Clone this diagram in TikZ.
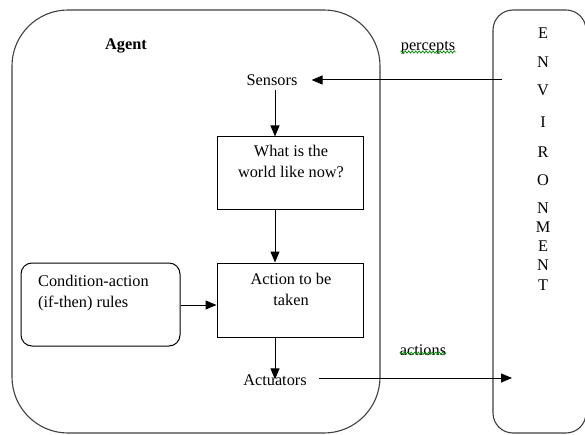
\documentclass[tikz,border=0pt]{standalone}
\usepackage{fontspec}
\setmainfont{Liberation Serif}
\usetikzlibrary{arrows.meta,decorations.pathmorphing}
\begin{document}
\begin{tikzpicture}[x=1pt,y=-1pt,
  every node/.style={font=\fontsize{16.3}{21}\selectfont, inner sep=0pt},
  frame/.style={draw=black!75, line width=1.1pt},
  box/.style={draw, line width=1pt},
  arr/.style={-{Triangle[length=11pt,width=9pt]}, line width=1pt},
  squig/.style={decorate, decoration={snake, amplitude=1.1pt, segment length=3.5pt}, draw=green!55!black, line width=0.7pt}]
\clip (0,0) rectangle (585,435);
% frames
\node[frame, rounded corners=56pt, minimum width=368pt, minimum height=423pt] (agent) at (196,221.5) {};
\node[frame, rounded corners=20pt, minimum width=93pt, minimum height=423pt] (env) at (539.5,221.5) {};
\node[font=\fontsize{16.3}{21}\selectfont\bfseries] (agentlbl) at (126,46) {Agent};
% environment letters
\foreach \l/\yy [count=\i] in {E/33,N/62,V/90,I/122,R/152,O/180,N/208,M/227,E/246,N/265,T/285}
  \node (e\i) at (543,\yy) {\l};
% inner nodes
\node (sensors) at (272,80) {Sensors};
\node[box, minimum width=146pt, minimum height=73pt] (w1) at (290,173.5) {};
\node[align=center, anchor=north] (w1t) at (291,145) {What is the\\world like now?};
\node[box, minimum width=146pt, minimum height=74pt] (w2) at (290,300) {};
\node[align=center, anchor=north] (w2t) at (291,273) {Action to be\\taken};
\node[box, rounded corners=11pt, minimum width=159pt, minimum height=83pt] (rules) at (100.5,304.5) {};
\node[align=left, anchor=north west] (rulest) at (38,275) {Condition-action\\(if-then) rules};
\node (act) at (275,380) {Actuators};
% labels
\node (perc) at (428,48) {percepts};
\node (acts) at (423,350) {actions};
\draw[squig] ([yshift=2.5pt]perc.south west) -- ([yshift=2.5pt]perc.south east);
\draw[squig] ([yshift=2.5pt]acts.south west) -- ([yshift=2.5pt]acts.south east);
% connectors
\coordinate (pin) at (502,80);
\coordinate (aout) at (512,378);
\draw[arr] (pin) -- ([xshift=14pt]sensors.east);
\draw[arr] ([xshift=3pt,yshift=-4pt]sensors.south) -- ([xshift=3pt]sensors.south |- w1.north);
\draw[arr] ([xshift=3pt]sensors.south |- w1.south) -- ([xshift=3pt]sensors.south |- w2.north);
\draw[arr] (rules.east |- 0,305) -- (w2.west |- 0,305);
\draw[arr] (act.north |- w2.south) -- ([yshift=-5pt]act.north);
\draw[arr] ([xshift=12pt]act.east |- aout) -- (aout);
\end{tikzpicture}
\end{document}
